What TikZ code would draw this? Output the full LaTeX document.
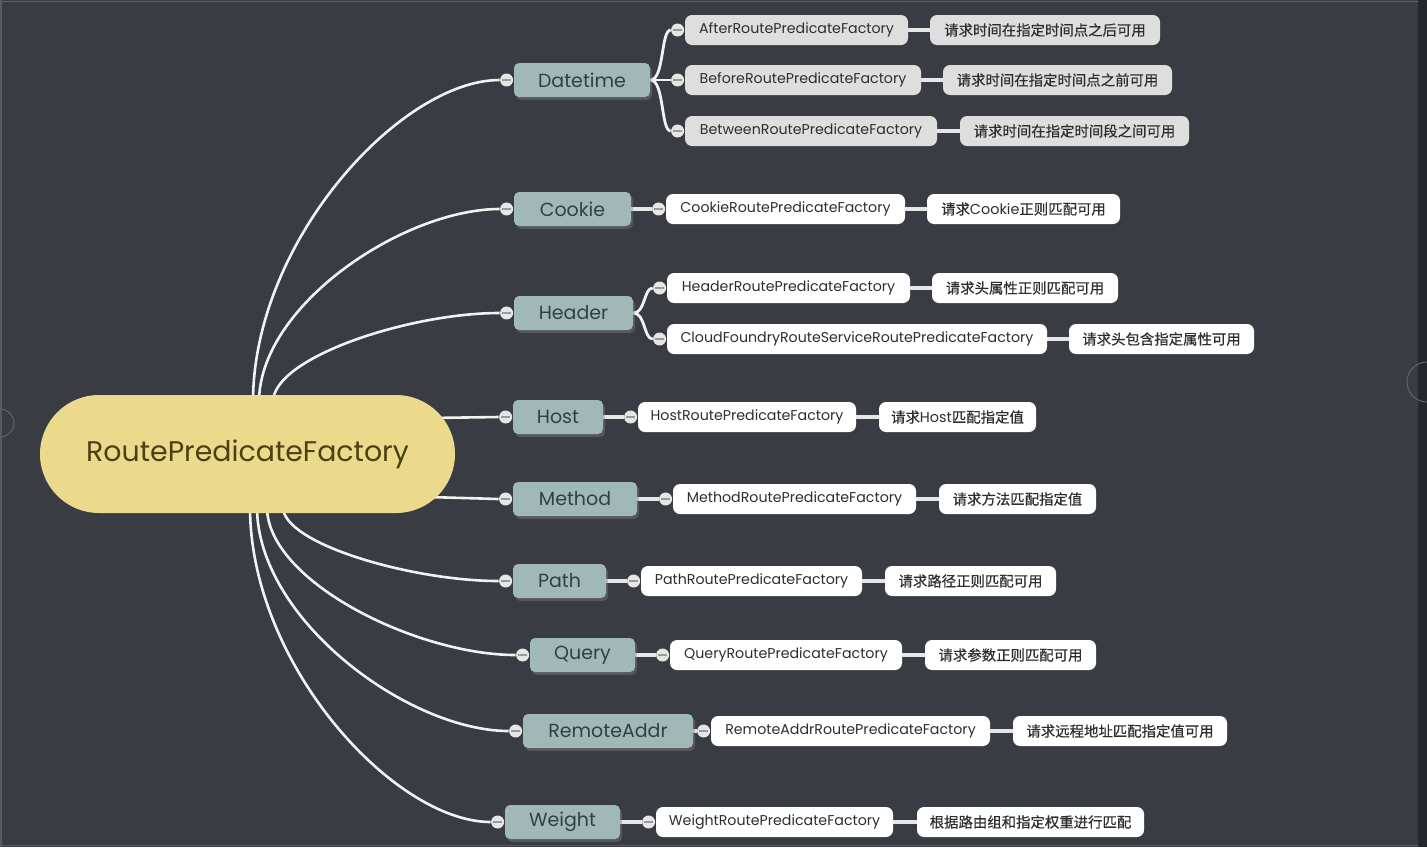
\documentclass[tikz,border=0pt]{standalone}
\usepackage{fontspec}
\setmainfont{Poppins}
\newfontfamily\cjk[FakeBold=0.5]{Noto Sans CJK SC}
\usetikzlibrary{calc,shadows,shapes.misc}
\pgfdeclarelayer{bg}
\pgfsetlayers{bg,main}
\definecolor{bgc}{HTML}{393C43}
\definecolor{rootc}{HTML}{ECDA8C}
\definecolor{roott}{HTML}{4A4012}
\definecolor{lonec}{HTML}{A0B9B6}
\definecolor{lonet}{HTML}{2E4242}
\definecolor{ltwot}{HTML}{2E2E2E}
\definecolor{grayb}{HTML}{DEDEDE}
\definecolor{knobc}{HTML}{E6E6E6}
\definecolor{knobl}{HTML}{9A9A9A}
\definecolor{linec}{HTML}{F2F2F2}
\newcommand\knob[2]{\node[knob] (#1) at ([xshift=-3.5pt]#2.west) {};}
\newcommand\curvelink[2]{\draw[curve] (#1) .. controls ($(#1)!0.5!(#1|-#2)$) and ($(#1|-#2)!0.6!(#2)$) .. (#2);}
\begin{document}
\begin{tikzpicture}[x=0.5pt,y=-0.5pt,
  root/.style={rounded rectangle, fill=rootc, text=roott, inner sep=0pt,
    minimum width=207.5pt, minimum height=59pt, font=\fontsize{14.2}{16}\selectfont},
  lone/.style={rectangle, rounded corners=2.5pt, fill=lonec, text=lonet, inner sep=0pt,
    minimum height=17pt, font=\fontsize{9.5}{11}\selectfont,
    drop shadow={opacity=0.4, shadow xshift=1pt, shadow yshift=-1.5pt}},
  ltwo/.style={rectangle, rounded corners=3.5pt, fill=white, text=ltwot, inner sep=0pt,
    minimum height=15pt, font=\fontsize{7.1}{8.5}\selectfont},
  ltwog/.style={ltwo, fill=grayb},
  desc/.style={ltwo, font=\fontsize{7.2}{9}\selectfont\cjk},
  descg/.style={desc, fill=grayb},
  knob/.style={circle, fill=knobc, inner sep=0pt, minimum size=6.5pt,
    path picture={\draw[knobl, line width=0.9pt] ([xshift=-2.3pt]path picture bounding box.center) -- ([xshift=2.3pt]path picture bounding box.center);}},
  curve/.style={draw=linec, line width=1.3pt},
  fan/.style={draw=linec, line width=1.4pt},
  link/.style={draw=knobc, line width=1.7pt},
  dlink/.style={draw=knobc, line width=2pt}
]
\useasboundingbox (0,0) rectangle (1427,847);
\begin{pgfonlayer}{bg}
\fill[bgc] (0,0) rectangle (1427,847);
\fill[black!35!bgc] (1418,0) rectangle (1427,847);
\draw[gray!55!bgc, line width=0.8pt] (0.8,1.5) -- (1418,1.5);
\draw[gray!45!bgc, line width=0.6pt] (1,0) -- (1,847);
\draw[gray!45!bgc, line width=0.6pt] (0,845.5) -- (1418,845.5);
\draw[gray!60!bgc, line width=0.5pt] (1427,402) arc[start angle=90, end angle=270, radius=20];
\draw[gray!60!bgc, line width=0.5pt] (0,409) arc[start angle=-90, end angle=90, radius=14];
\end{pgfonlayer}

% root
\node[root] (root) at (247.5,454) {RoutePredicateFactory};

% level one
\node[lone, minimum width=68pt]   (dt) at (582,80)    {Datetime};
\node[lone, minimum width=58.5pt] (ck) at (572.5,209) {Cookie};
\node[lone, minimum width=59.5pt] (hd) at (573.5,313) {Header};
\node[lone, minimum width=45pt]   (hs) at (558,417)   {Host};
\node[lone, minimum width=62pt]   (me) at (575,499)   {Method};
\node[lone, minimum width=46.5pt] (pa) at (559.5,581) {Path};
\node[lone, minimum width=52.5pt] (qu) at (582.5,655) {Query};
\node[lone, minimum width=85pt]   (ra) at (608,731)   {RemoteAddr};
\node[lone, minimum width=57.5pt] (we) at (562.5,822) {Weight};

% level two
\node[ltwog, minimum width=111.5pt] (a1) at (796.5,30) {AfterRoutePredicateFactory};
\node[ltwog, minimum width=118pt]   (a2) at (803,80)   {BeforeRoutePredicateFactory};
\node[ltwog, minimum width=126pt]   (a3) at (811,131)  {BetweenRoutePredicateFactory};
\node[ltwo, minimum width=119.5pt]  (b1) at (785.5,209) {CookieRoutePredicateFactory};
\node[ltwo, minimum width=121.5pt]  (c1) at (788.5,288) {HeaderRoutePredicateFactory};
\node[ltwo, minimum width=190pt]    (c2) at (857,339)   {CloudFoundryRouteServiceRoutePredicateFactory};
\node[ltwo, minimum width=109pt]    (d1) at (747,417)   {HostRoutePredicateFactory};
\node[ltwo, minimum width=121.5pt]  (e1) at (794.5,499) {MethodRoutePredicateFactory};
\node[ltwo, minimum width=110.5pt]  (f1) at (751.5,581) {PathRoutePredicateFactory};
\node[ltwo, minimum width=116pt]    (g1) at (786,655)   {QueryRoutePredicateFactory};
\node[ltwo, minimum width=139.5pt]  (h1) at (850.5,731) {RemoteAddrRoutePredicateFactory};
\node[ltwo, minimum width=118.5pt]  (i1) at (774.5,822) {WeightRoutePredicateFactory};

% descriptions
\node[descg, minimum width=115pt]  (a1d) at (1045,30)    {请求时间在指定时间点之后可用};
\node[descg, minimum width=114.5pt](a2d) at (1057.5,80)  {请求时间在指定时间点之前可用};
\node[descg, minimum width=114.5pt](a3d) at (1074.5,131) {请求时间在指定时间段之间可用};
\node[desc, minimum width=96.5pt]  (b1d) at (1023.5,209) {请求{\rmfamily Cookie}正则匹配可用};
\node[desc, minimum width=93pt]    (c1d) at (1025,288)   {请求头属性正则匹配可用};
\node[desc, minimum width=92.5pt]  (c2d) at (1161.5,339) {请求头包含指定属性可用};
\node[desc, minimum width=78.5pt]  (d1d) at (957.5,417)  {请求{\rmfamily Host}匹配指定值};
\node[desc, minimum width=78.5pt]  (e1d) at (1017.5,499) {请求方法匹配指定值};
\node[desc, minimum width=85.5pt]  (f1d) at (970.5,581)  {请求路径正则匹配可用};
\node[desc, minimum width=85.5pt]  (g1d) at (1010.5,655) {请求参数正则匹配可用};
\node[desc, minimum width=107pt]   (h1d) at (1120,731)   {请求远程地址匹配指定值可用};
\node[desc, minimum width=113.5pt] (i1d) at (1030.5,822) {根据路由组和指定权重进行匹配};

% knobs
\knob{kdt}{dt}\knob{kck}{ck}\knob{khd}{hd}\knob{khs}{hs}\knob{kme}{me}
\knob{kpa}{pa}\knob{kqu}{qu}\knob{kra}{ra}\knob{kwe}{we}
\knob{ka1}{a1}\knob{ka2}{a2}\knob{ka3}{a3}\knob{kb1}{b1}\knob{kc1}{c1}\knob{kc2}{c2}
\knob{kd1}{d1}\knob{ke1}{e1}\knob{kf1}{f1}\knob{kg1}{g1}\knob{kh1}{h1}\knob{ki1}{i1}

% start points on the root
\coordinate (s1) at (253,402);
\coordinate (s2) at (259,402);
\coordinate (s3) at (273,402);
\coordinate (s4) at (430,418);
\coordinate (s5) at (428,497);
\coordinate (s6) at (283,507);
\coordinate (s7) at (267,507);
\coordinate (s8) at (257,507);
\coordinate (s9) at (250,507);

\begin{pgfonlayer}{bg}
\curvelink{s1}{kdt.west}
\curvelink{s2}{kck.west}
\curvelink{s3}{khd.west}
\draw[curve] (s4) -- (khs.west);
\draw[curve] (s5) -- (kme.west);
\curvelink{s6}{kpa.west}
\curvelink{s7}{kqu.west}
\curvelink{s8}{kra.west}
\curvelink{s9}{kwe.west}
% fans
\draw[fan] (dt.east) .. controls +(14,0) and +(-10,0) .. (ka1.west);
\draw[fan] (dt.east) -- (ka2.west);
\draw[fan] (dt.east) .. controls +(14,0) and +(-10,0) .. (ka3.west);
\draw[fan] (hd.east) .. controls +(12,0) and +(-9,0) .. (kc1.west);
\draw[fan] (hd.east) .. controls +(12,0) and +(-9,0) .. (kc2.west);
% links
\draw[link] (ck.east) -- (kb1.west);
\draw[link] (hs.east) -- (kd1.west);
\draw[link] (me.east) -- (ke1.west);
\draw[link] (pa.east) -- (kf1.west);
\draw[link] (qu.east) -- (kg1.west);
\draw[link] (ra.east) -- (kh1.west);
\draw[link] (we.east) -- (ki1.west);
\draw[dlink] (a1.east) -- (a1d.west);
\draw[dlink] (a2.east) -- (a2d.west);
\draw[dlink] (a3.east) -- (a3d.west);
\draw[dlink] (b1.east) -- (b1d.west);
\draw[dlink] (c1.east) -- (c1d.west);
\draw[dlink] (c2.east) -- (c2d.west);
\draw[dlink] (d1.east) -- (d1d.west);
\draw[dlink] (e1.east) -- (e1d.west);
\draw[dlink] (f1.east) -- (f1d.west);
\draw[dlink] (g1.east) -- (g1d.west);
\draw[dlink] (h1.east) -- (h1d.west);
\draw[dlink] (i1.east) -- (i1d.west);
\end{pgfonlayer}
\end{tikzpicture}
\end{document}
